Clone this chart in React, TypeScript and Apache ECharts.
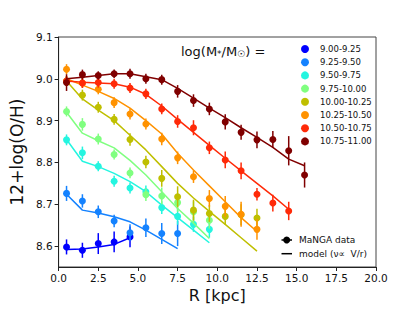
import React, { useEffect, useRef } from "react";
import * as echarts from "echarts";

const R = [0.5, 1.5, 2.5, 3.5, 4.5, 5.5, 6.5, 7.5, 8.5, 9.5, 10.5, 11.5, 12.5, 13.5, 14.5, 15.5];
const binNames = ["9.00-9.25", "9.25-9.50", "9.50-9.75", "9.75-10.00", "10.00-10.25", "10.25-10.50", "10.50-10.75", "10.75-11.00"];
const binColors = ["#0000ff", "#1482ff", "#24f5e0", "#80ff80", "#bfbf00", "#ff9200", "#ff2a08", "#800000"];

const val0 = [8.598, 8.590, 8.606, 8.610, 8.622];
const err0 = [0.018, 0.018, 0.025, 0.025, 0.025];
const mod0 = [8.592, 8.593, 8.598, 8.604, 8.620];

const val1 = [8.726, 8.708, 8.682, 8.660, 8.632, 8.644, 8.630, 8.630];
const err1 = [0.018, 0.016, 0.015, 0.015, 0.02, 0.022, 0.025, 0.03];
const mod1 = [8.724, 8.686, 8.679, 8.670, 8.658, 8.638, 8.616, 8.594];

const val2 = [8.854, 8.823, 8.791, 8.755, 8.739, 8.730, 8.692, 8.671, 8.652, 8.640];
const err2 = [0.013, 0.015, 0.012, 0.013, 0.013, 0.015, 0.015, 0.02, 0.018, 0.02];
const mod2 = [8.855, 8.803, 8.790, 8.774, 8.754, 8.730, 8.698, 8.668, 8.638, 8.608];

const val3 = [8.922, 8.891, 8.856, 8.819, 8.775, 8.723, 8.720, 8.704, 8.682, 8.662];
const err3 = [0.012, 0.015, 0.013, 0.012, 0.013, 0.015, 0.02, 0.022, 0.025, 0.02];
const mod3 = [8.920, 8.870, 8.852, 8.835, 8.805, 8.770, 8.730, 8.690, 8.655, 8.618];

const val4 = [8.995, 8.961, 8.932, 8.903, 8.855, 8.801, 8.762, 8.718, 8.686, 8.678, 8.671, 8.675, 8.667];
const err4 = [0.012, 0.013, 0.013, 0.013, 0.015, 0.015, 0.02, 0.025, 0.025, 0.02, 0.02, 0.025, 0.022];
const mod4 = [8.995, 8.952, 8.925, 8.900, 8.865, 8.830, 8.790, 8.750, 8.715, 8.683, 8.652, 8.620, 8.588];

const val5 = [9.023, 8.990, 8.975, 8.943, 8.916, 8.892, 8.856, 8.811, 8.766, 8.714, 8.695, 8.676, 8.640];
const err5 = [0.012, 0.012, 0.012, 0.013, 0.013, 0.013, 0.015, 0.015, 0.015, 0.02, 0.025, 0.03, 0.025];
const mod5 = [9.000, 8.985, 8.970, 8.953, 8.930, 8.900, 8.868, 8.822, 8.782, 8.744, 8.706, 8.668, 8.635];

const val6 = [8.995, 8.990, 8.991, 8.988, 8.978, 8.964, 8.928, 8.898, 8.883, 8.835, 8.806, 8.780, 8.724, 8.703, 8.684];
const err6 = [0.012, 0.012, 0.012, 0.012, 0.012, 0.012, 0.013, 0.015, 0.018, 0.015, 0.02, 0.02, 0.015, 0.02, 0.022];
const mod6 = [8.995, 8.992, 8.990, 8.988, 8.980, 8.963, 8.935, 8.903, 8.872, 8.841, 8.810, 8.780, 8.750, 8.720, 8.688];

const val7 = [8.991, 9.010, 9.008, 9.012, 9.012, 9.000, 8.998, 8.970, 8.948, 8.928, 8.897, 8.872, 8.854, 8.855, 8.828, 8.770];
const err7 = [0.02, 0.012, 0.01, 0.01, 0.012, 0.012, 0.012, 0.015, 0.015, 0.015, 0.018, 0.018, 0.02, 0.02, 0.035, 0.03];
const mod7 = [9.000, 9.004, 9.008, 9.012, 9.012, 9.005, 8.998, 8.977, 8.954, 8.930, 8.907, 8.883, 8.860, 8.836, 8.808, 8.792];

const values = [val0, val1, val2, val3, val4, val5, val6, val7];
const errors = [err0, err1, err2, err3, err4, err5, err6, err7];
const models = [mod0, mod1, mod2, mod3, mod4, mod5, mod6, mod7];

const xTicks = [0, 2.5, 5, 7.5, 10, 12.5, 15, 17.5, 20];
const yTicks = [8.6, 8.7, 8.8, 8.9, 9.0, 9.1];

const FONT = "DejaVu Sans";

export default function App() {
  const ref = useRef<HTMLDivElement>(null);
  useEffect(() => {
    document.body.style.margin = "0";
    const chart = echarts.init(ref.current!, null, { renderer: "svg" });
    const series: any[] = [];
    values.forEach((vals, i) => {
      const color = binColors[i];
      series.push({
        name: "model " + binNames[i],
        type: "line",
        data: models[i].map((m, j) => [R[j], m]),
        symbol: "none",
        lineStyle: { color, width: 1.5 },
        z: 2 + i,
      });
      series.push({
        name: "err " + binNames[i],
        type: "custom",
        data: vals.map((v, j) => [R[j], v - errors[i][j], v + errors[i][j]]),
        encode: { x: 0, y: [1, 2] },
        renderItem: (params: any, api: any) => {
          const p1 = api.coord([api.value(0), api.value(1)]);
          const p2 = api.coord([api.value(0), api.value(2)]);
          return {
            type: "line",
            shape: { x1: p1[0], y1: p1[1], x2: p2[0], y2: p2[1] },
            style: { stroke: color, lineWidth: 1.5 },
          };
        },
        z: 2 + i,
      });
      series.push({
        name: binNames[i],
        type: "scatter",
        data: vals.map((v, j) => [R[j], v]),
        symbol: "circle",
        symbolSize: 7,
        itemStyle: { color, opacity: 1 },
        z: 2 + i,
      });
    });

    chart.setOption({
      animation: false,
      textStyle: { fontFamily: FONT },
      grid: {
        left: 52, right: 43, top: 37, bottom: 47,
        show: true, borderColor: "#444", borderWidth: 1, backgroundColor: "transparent",
      },
      legend: {
        data: binNames.map((n) => ({ name: n, icon: "circle" })),
        orient: "vertical",
        left: 301,
        top: 44.5,
        padding: 0,
        itemWidth: 8,
        itemHeight: 8,
        itemGap: 4.2,
        selectedMode: false,
        textStyle: { fontSize: 8.5, color: "#111", fontFamily: FONT, lineHeight: 8, padding: [0, 0, 0, 6] },
      },
      xAxis: {
        type: "value",
        min: 0,
        max: 20,
        interval: 2.5,
        name: "R [kpc]",
        nameLocation: "middle",
        nameGap: 20,
        nameTextStyle: { fontSize: 16, color: "#111", fontFamily: FONT },
        axisLine: { show: true, onZero: false, lineStyle: { color: "#222", width: 1 } },
        axisTick: { show: true, inside: false, length: 4, lineStyle: { color: "#222" }, customValues: xTicks },
        axisLabel: {
          fontSize: 10.5, color: "#111", margin: 5, fontFamily: FONT,
          customValues: xTicks,
          formatter: (v: number) => v.toFixed(1),
        },
        splitLine: { show: false },
      },
      yAxis: {
        type: "value",
        min: 8.55,
        max: 9.1,
        name: "12+log(O/H)",
        nameLocation: "middle",
        nameGap: 28,
        nameTextStyle: { fontSize: 17, color: "#111", fontFamily: FONT },
        axisLine: { show: true, onZero: false, lineStyle: { color: "#222", width: 1 } },
        axisTick: { show: true, inside: false, length: 4, lineStyle: { color: "#222" }, customValues: yTicks },
        axisLabel: {
          fontSize: 10.5, color: "#111", margin: 6, fontFamily: FONT,
          customValues: yTicks,
          formatter: (v: number) => v.toFixed(1),
        },
        splitLine: { show: false },
      },
      graphic: [
        {
          type: "text",
          left: 181,
          top: 45,
          style: {
            text: "{a|log(M}{s|*}{a|/M}{s|☉}{a|) =}",
            rich: {
              a: { fontSize: 13, fontFamily: FONT, fill: "#111", verticalAlign: "bottom", lineHeight: 17 },
              s: { fontSize: 9, fontFamily: FONT, fill: "#111", verticalAlign: "bottom", lineHeight: 13 },
            },
          },
        },
        { type: "line", shape: { x1: 281.5, y1: 240, x2: 292, y2: 240 }, style: { stroke: "#000", lineWidth: 1.5 } },
        { type: "circle", shape: { cx: 286.7, cy: 240, r: 3.5 }, style: { fill: "#000" } },
        {
          type: "text", x: 299, y: 240,
          style: { text: "MaNGA data", fontSize: 9, fontFamily: FONT, fill: "#111", verticalAlign: "middle" },
        },
        { type: "line", shape: { x1: 281.5, y1: 253.7, x2: 292, y2: 253.7 }, style: { stroke: "#000", lineWidth: 1.5 } },
        {
          type: "text", x: 299, y: 253.7,
          style: { text: "model (ν∝  V/r)", fontSize: 9, fontFamily: FONT, fill: "#111", verticalAlign: "middle" },
        },
      ],
      series,
    });
    return () => chart.dispose();
  }, []);
  return <div ref={ref} style={{ width: 419, height: 314 }} />;
}
